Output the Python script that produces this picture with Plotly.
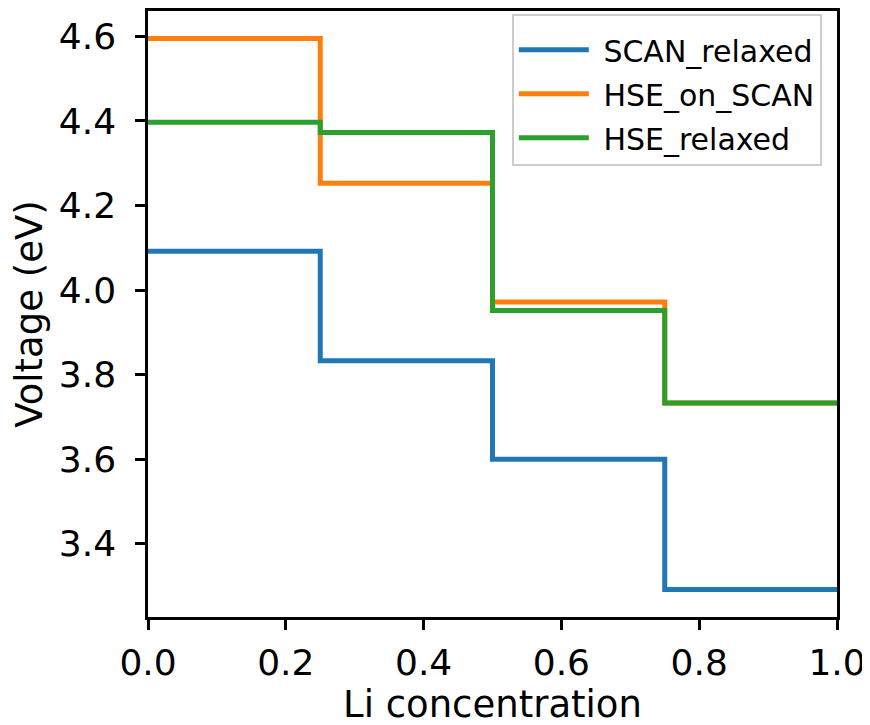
import plotly.graph_objects as go

li_conc = [0.0, 0.25, 0.5, 0.75, 1.0]
scan_relaxed = [4.092, 3.833, 3.600, 3.292, 3.292]
hse_on_scan = [4.595, 4.253, 3.972, 3.733, 3.733]
hse_relaxed = [4.397, 4.373, 3.952, 3.733, 3.733]

series = [
    ("SCAN_relaxed", scan_relaxed, "#1f77b4"),
    ("HSE_on_SCAN", hse_on_scan, "#ff7f0e"),
    ("HSE_relaxed", hse_relaxed, "#2ca02c"),
]

fig = go.Figure()
for name, vals, color in series:
    fig.add_trace(go.Scatter(
        x=li_conc, y=vals, name="\u00a0" + name, mode="lines",
        legendgroup=name,
        line=dict(color=color, width=5, shape="hv"),
    ))

font = "DejaVu Sans"
axis_common = dict(
    showgrid=False, zeroline=False, showline=True, linecolor="black",
    linewidth=2.5, mirror=True, ticks="outside", ticklen=10, tickwidth=2.5,
    tickcolor="black", tickfont=dict(family=font, size=36, color="black"),
    automargin=False,
)

fig.update_layout(
    width=870, height=725,
    paper_bgcolor="white", plot_bgcolor="white",
    margin=dict(l=140, r=41, t=3, b=116),
    font=dict(family=font, color="black"),
    xaxis=dict(range=[0, 1], tickvals=[0, 0.2, 0.4, 0.6, 0.8, 1.0],
               tickformat=".1f", ticklabelstandoff=2,
               title=dict(text="Li concentration", font=dict(family=font, size=37), standoff=10),
               **axis_common),
    yaxis=dict(range=[3.2269, 4.6601], tickvals=[3.4, 3.6, 3.8, 4.0, 4.2, 4.4, 4.6],
               tickformat=".1f", ticklabelstandoff=12,
               title=dict(text="Voltage (eV)", font=dict(family=font, size=37), standoff=8),
               **axis_common),
    legend=dict(x=0.978, y=0.995, xanchor="right", yanchor="top",
                bgcolor="rgba(255,255,255,0.8)", bordercolor="#cccccc", borderwidth=2,
                itemwidth=70, tracegroupgap=2,
                title=dict(text="\u00a0", font=dict(size=6)),
                font=dict(family=font, size=30)),
    showlegend=True,
)

fig.write_html("out.html")
